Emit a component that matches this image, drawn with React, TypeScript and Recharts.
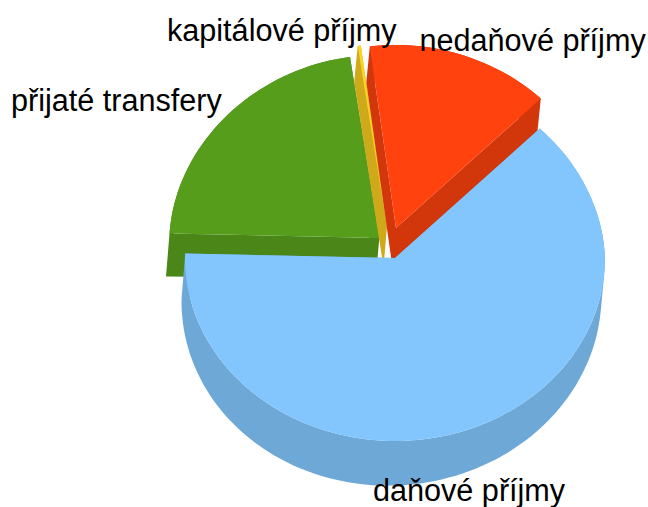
import React from 'react';
import { PieChart, Pie } from 'recharts';

const categories = ['přijaté transfery', 'kapitálové příjmy', 'nedaňové příjmy', 'daňové příjmy'];
const shares = [22.3, 0.25, 14.56, 62.89];

const TOP_COLORS = ['#579d1c', '#ffd320', '#ff420e', '#82c6fd'];
const SIDE_COLORS = ['#4a8618', '#ceaa1a', '#d2370b', '#6ea8d6'];

// how far each slice is pulled out of the pie
const EXPLODE = [
  [-15.7, -20],
  [-8, -31],
  [1, -30],
  [0, 0],
];
const LABEL_POS = [
  [11, 111],
  [167, 41],
  [419.5, 51],
  [373, 501],
];

const WIDTH = 648;
const HEIGHT = 507;
const CX = 395;
const CY = 258;
const RADIUS = 210;
const TILT = 183 / 210;
const FONT_SIZE = 30.6;

// the walls get a bit taller towards the viewer and towards the left
const wallDepth = (x: number, y: number) => 40 - 0.0148 * x + 0.0237 * y;

const toPath = (pts: number[][]) =>
  pts.map((p, i) => `${i ? 'L' : 'M'}${p[0].toFixed(1)},${p[1].toFixed(1)}`).join('') + 'Z';

// same winding for every wall so they fill as one shape, no seams
const wound = (pts: number[][]) => {
  let area = 0;
  pts.forEach((p, i) => {
    const q = pts[(i + 1) % pts.length];
    area += p[0] * q[1] - q[0] * p[1];
  });
  return area < 0 ? [...pts].reverse() : pts;
};

const Slice3D = (props: any) => {
  const { cx, cy, outerRadius, startAngle, endAngle, name } = props;
  const idx = categories.indexOf(name);
  const [ox, oy] = EXPLODE[idx];
  const lo = Math.min(startAngle, endAngle);
  const hi = Math.max(startAngle, endAngle);
  const apex = [cx + ox, cy + oy];

  const outline = [apex];
  const steps = Math.max(2, Math.ceil((hi - lo) / 2));
  for (let i = 0; i <= steps; i++) {
    const a = ((lo + ((hi - lo) * i) / steps) * Math.PI) / 180;
    // slight perspective: the far half is a little narrower
    const squeeze = 1 - 0.035 * Math.max(0, Math.sin(a));
    outline.push([
      apex[0] + outerRadius * squeeze * Math.cos(a),
      apex[1] - outerRadius * TILT * Math.sin(a),
    ]);
  }
  const lower = outline.map(([x, y]) => [x - 3.5, y + wallDepth(x, y)]);

  const walls = outline
    .map((p, i) => {
      const j = (i + 1) % outline.length;
      return toPath(wound([p, outline[j], lower[j], lower[i]]));
    })
    .join('');

  return (
    <g>
      <path d={walls} fill={SIDE_COLORS[idx]} fillRule="nonzero" />
      <path d={toPath(outline)} fill={TOP_COLORS[idx]} />
    </g>
  );
};

const sliceLabel = (props: any) => {
  const idx = categories.indexOf(props.name);
  return (
    <text
      x={LABEL_POS[idx][0]}
      y={LABEL_POS[idx][1]}
      fontFamily="Liberation Sans"
      fontSize={FONT_SIZE}
      fill="#000"
    >
      {props.name}
    </text>
  );
};

const data = categories.map((name, i) => ({ name, value: shares[i] }));

export default function App() {
  return (
    <div style={{ position: 'absolute', left: 0, top: 0, width: WIDTH, height: HEIGHT }}>
      <PieChart width={WIDTH} height={HEIGHT} margin={{ top: 0, right: 0, bottom: 0, left: 0 }}>
        <Pie
          data={data}
          dataKey="value"
          nameKey="name"
          cx={CX}
          cy={CY}
          innerRadius={0}
          outerRadius={RADIUS}
          startAngle={178.6}
          endAngle={-181.4}
          stroke="none"
          shape={Slice3D}
          label={sliceLabel}
          labelLine={false}
          isAnimationActive={false}
        />
      </PieChart>
    </div>
  );
}
